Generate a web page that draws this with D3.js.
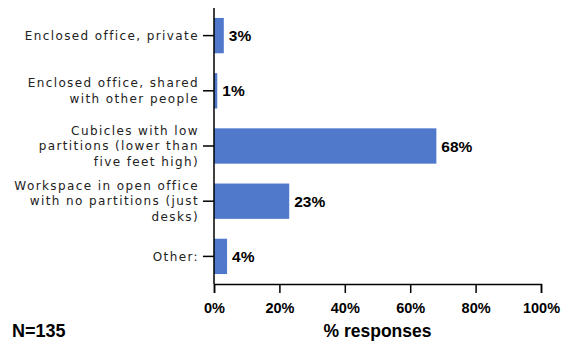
<!DOCTYPE html>
<html>
<head>
<meta charset="utf-8">
<script src="https://cdn.jsdelivr.net/npm/d3@7"></script>
<style>
  body { margin: 0; background: #fff; }
  svg { display: block; }
</style>
</head>
<body>
<div id="chart"></div>
<script>
const categories = [
    ['Enclosed office, private'],
    ['Enclosed office, shared', 'with other people'],
    ['Cubicles with low', 'partitions (lower than', 'five feet high)'],
    ['Workspace in open office', 'with no partitions (just', 'desks)'],
    ['Other:']
];
const values = [3, 1, 68, 23, 4];
const tickValues = [0, 20, 40, 60, 80, 100];

const width = 563, height = 343;
const margin = { left: 214, right: 22, top: 8, bottom: 59 };

const svg = d3.select('#chart')
    .append('svg')
    .attr('width', width)
    .attr('height', height);

const x = d3.scaleLinear()
    .domain([0, 100])
    .range([margin.left, width - margin.right]);

const y = d3.scaleBand()
    .domain(d3.range(values.length))
    .range([margin.top, height - margin.bottom])
    .paddingInner(0.36)
    .paddingOuter(0.18);

// bars
svg.append('g')
    .selectAll('rect')
    .data(values)
    .join('rect')
    .attr('x', x(0))
    .attr('y', (d, i) => y(i))
    .attr('width', d => x(d) - x(0))
    .attr('height', y.bandwidth())
    .attr('fill', '#5079cc');

// value labels
svg.append('g')
    .selectAll('text')
    .data(values)
    .join('text')
    .attr('x', d => x(d) + 5)
    .attr('y', (d, i) => y(i) + y.bandwidth() / 2)
    .attr('dy', '0.36em')
    .style('font-family', 'Liberation Sans, Arial, sans-serif')
    .style('font-weight', 'bold')
    .style('font-size', '15.5px')
    .text(d => d + '%');

// y axis
const yAxis = svg.append('g')
    .attr('transform', `translate(${x(0)},0)`);
yAxis.append('line')
    .attr('y1', margin.top)
    .attr('y2', height - margin.bottom)
    .attr('stroke', '#000')
    .attr('stroke-width', 1.5);
const yTicks = yAxis.selectAll('g.tick')
    .data(categories)
    .join('g')
    .attr('class', 'tick')
    .attr('transform', (d, i) => `translate(0,${y(i) + y.bandwidth() / 2})`);
yTicks.append('line')
    .attr('x1', -11)
    .attr('x2', 0)
    .attr('stroke', '#000')
    .attr('stroke-width', 1.5);
yTicks.append('text')
    .attr('text-anchor', 'end')
    .style('font-family', 'DejaVu Sans, Verdana, sans-serif')
    .style('font-size', '12px')
    .style('letter-spacing', '1.4px')
    .attr('fill', '#222')
    .each(function (lines) {
        const lh = 15.5;
        const start = -(lines.length - 1) * lh / 2;
        d3.select(this).selectAll('tspan')
            .data(lines)
            .join('tspan')
            .attr('x', -15)
            .attr('y', (d, j) => start + j * lh)
            .attr('dy', '0.35em')
            .text(d => d);
    });

// x axis
const xAxis = svg.append('g')
    .attr('transform', `translate(0,${height - margin.bottom})`)
    .call(d3.axisBottom(x)
        .tickValues(tickValues)
        .tickFormat(d => d + '%')
        .tickSize(9)
        .tickPadding(10));
xAxis.select('.domain').attr('stroke-width', 1.5);
xAxis.selectAll('.tick line').attr('stroke-width', 1.5);
xAxis.selectAll('.tick text')
    .style('font-family', 'Liberation Sans, Arial, sans-serif')
    .style('font-weight', 'bold')
    .style('font-size', '14.5px')
    .attr('fill', '#000');

svg.append('text')
    .attr('x', (x(0) + x(100)) / 2)
    .attr('y', 337)
    .attr('text-anchor', 'middle')
    .style('font-family', 'Liberation Sans, Arial, sans-serif')
    .style('font-weight', 'bold')
    .style('font-size', '17.5px')
    .text('% responses');

svg.append('text')
    .attr('x', 12)
    .attr('y', 337)
    .style('font-family', 'Liberation Sans, Arial, sans-serif')
    .style('font-weight', 'bold')
    .style('font-size', '18px')
    .text('N=135');
</script>
</body>
</html>
